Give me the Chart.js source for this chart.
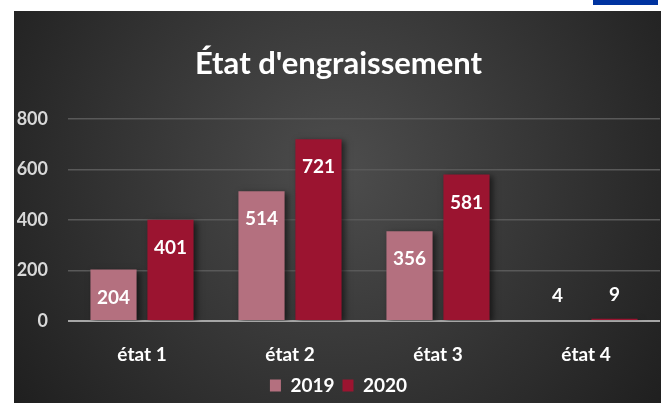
<!DOCTYPE html>
<html>
<head>
<meta charset="utf-8">
<script src="https://cdn.jsdelivr.net/npm/chart.js@4.4.1/dist/chart.umd.min.js"></script>
<style>
  html, body { margin: 0; padding: 0; background: #ffffff; }
  #wrap { width: 665px; height: 403px; position: relative; }
</style>
</head>
<body>
<div id="wrap"><canvas id="chart"></canvas></div>
<script>
// Chart data
const categories = ["état 1", "état 2", "état 3", "état 4"];
const values2019 = [204, 514, 356, 4];
const values2020 = [401, 721, 581, 9];
const seriesNames = ["2019", "2020"];
const yTicks = [0, 200, 400, 600, 800];

const FONT = "Lato, 'Open Sans', sans-serif";

// Dark panel with a radial gradient, plus the small blue tab at the top right
const panelBackground = {
  id: "panelBackground",
  beforeDraw(chart) {
    const ctx = chart.ctx;
    ctx.save();
    ctx.fillStyle = "#ffffff";
    ctx.fillRect(0, 0, chart.width, chart.height);
    const g = ctx.createRadialGradient(338, 170, 0, 338, 170, 400);
    g.addColorStop(0, "#4d4d4d");
    g.addColorStop(1, "#1f1f1f");
    ctx.fillStyle = g;
    ctx.fillRect(14, 11, 647, 392);
    ctx.fillStyle = "#0033a0";
    ctx.fillRect(593, 0, 65, 5);
    ctx.restore();
  },
};

// Soft shadow behind the bars
const barShadow = {
  id: "barShadow",
  beforeDatasetDraw(chart) {
    const ctx = chart.ctx;
    ctx.save();
    ctx.shadowColor = "rgba(0,0,0,0.55)";
    ctx.shadowBlur = 6;
    ctx.shadowOffsetX = 3;
    ctx.shadowOffsetY = 2;
  },
  afterDatasetDraw(chart) {
    chart.ctx.restore();
  },
};

// Value labels: inside the top of the bar, or above it when the bar is tiny
const valueLabels = {
  id: "valueLabels",
  afterDatasetsDraw(chart) {
    const ctx = chart.ctx;
    ctx.save();
    ctx.font = "bold 19px " + FONT;
    ctx.fillStyle = "#ffffff";
    ctx.textAlign = "center";
    ctx.textBaseline = "middle";
    chart.data.datasets.forEach((ds, i) => {
      chart.getDatasetMeta(i).data.forEach((bar, j) => {
        const h = bar.base - bar.y;
        const y = h > 40 ? bar.y + 28 : bar.y - 24;
        ctx.fillText(String(ds.data[j]), bar.x, y);
      });
    });
    ctx.restore();
  },
};

new Chart(document.getElementById("chart"), {
  type: "bar",
  plugins: [panelBackground, barShadow, valueLabels],
  data: {
    labels: categories,
    datasets: [
      { label: seriesNames[0], data: values2019, backgroundColor: "#b4707f" },
      { label: seriesNames[1], data: values2020, backgroundColor: "#9b1430" },
    ],
  },
  options: {
    responsive: true,
    maintainAspectRatio: false,
    animation: false,
    devicePixelRatio: 1,
    layout: { padding: { left: 17, right: 5, top: 14, bottom: 2 } },
    datasets: { bar: { categoryPercentage: 0.77, barPercentage: 0.81 } },
    scales: {
      x: {
        grid: { display: false, drawTicks: false },
        border: { display: false },
        afterFit(scale) {
          scale.height = 47;
        },
        ticks: { color: "#ffffff", padding: 22, font: { family: FONT, size: 19, weight: "bold" } },
      },
      y: {
        min: 0,
        max: 800,
        afterBuildTicks(scale) {
          scale.ticks = yTicks.map((v) => ({ value: v }));
        },
        afterFit(scale) {
          scale.width = 51;
        },
        grid: {
          drawTicks: false,
          color: (c) => (c.tick && c.tick.value === 0 ? "#a6a6a6" : "#595959"),
          lineWidth: (c) => (c.tick && c.tick.value === 0 ? 2 : 1.5),
        },
        border: { display: false },
        ticks: { color: "#d9d9d9", padding: 20, font: { family: FONT, size: 18, weight: "bold" } },
      },
    },
    plugins: {
      tooltip: { enabled: false },
      title: {
        display: true,
        text: "État d'engraissement",
        color: "#ffffff",
        font: { family: FONT, size: 31, weight: "bold" },
        padding: { top: 31, bottom: 37 },
      },
      legend: {
        position: "bottom",
        maxHeight: 33,
        labels: {
          color: "#ffffff",
          font: { family: FONT, size: 19, weight: "bold" },
          boxWidth: 11,
          boxHeight: 12,
          padding: 8,
        },
      },
    },
  },
});
</script>
</body>
</html>
